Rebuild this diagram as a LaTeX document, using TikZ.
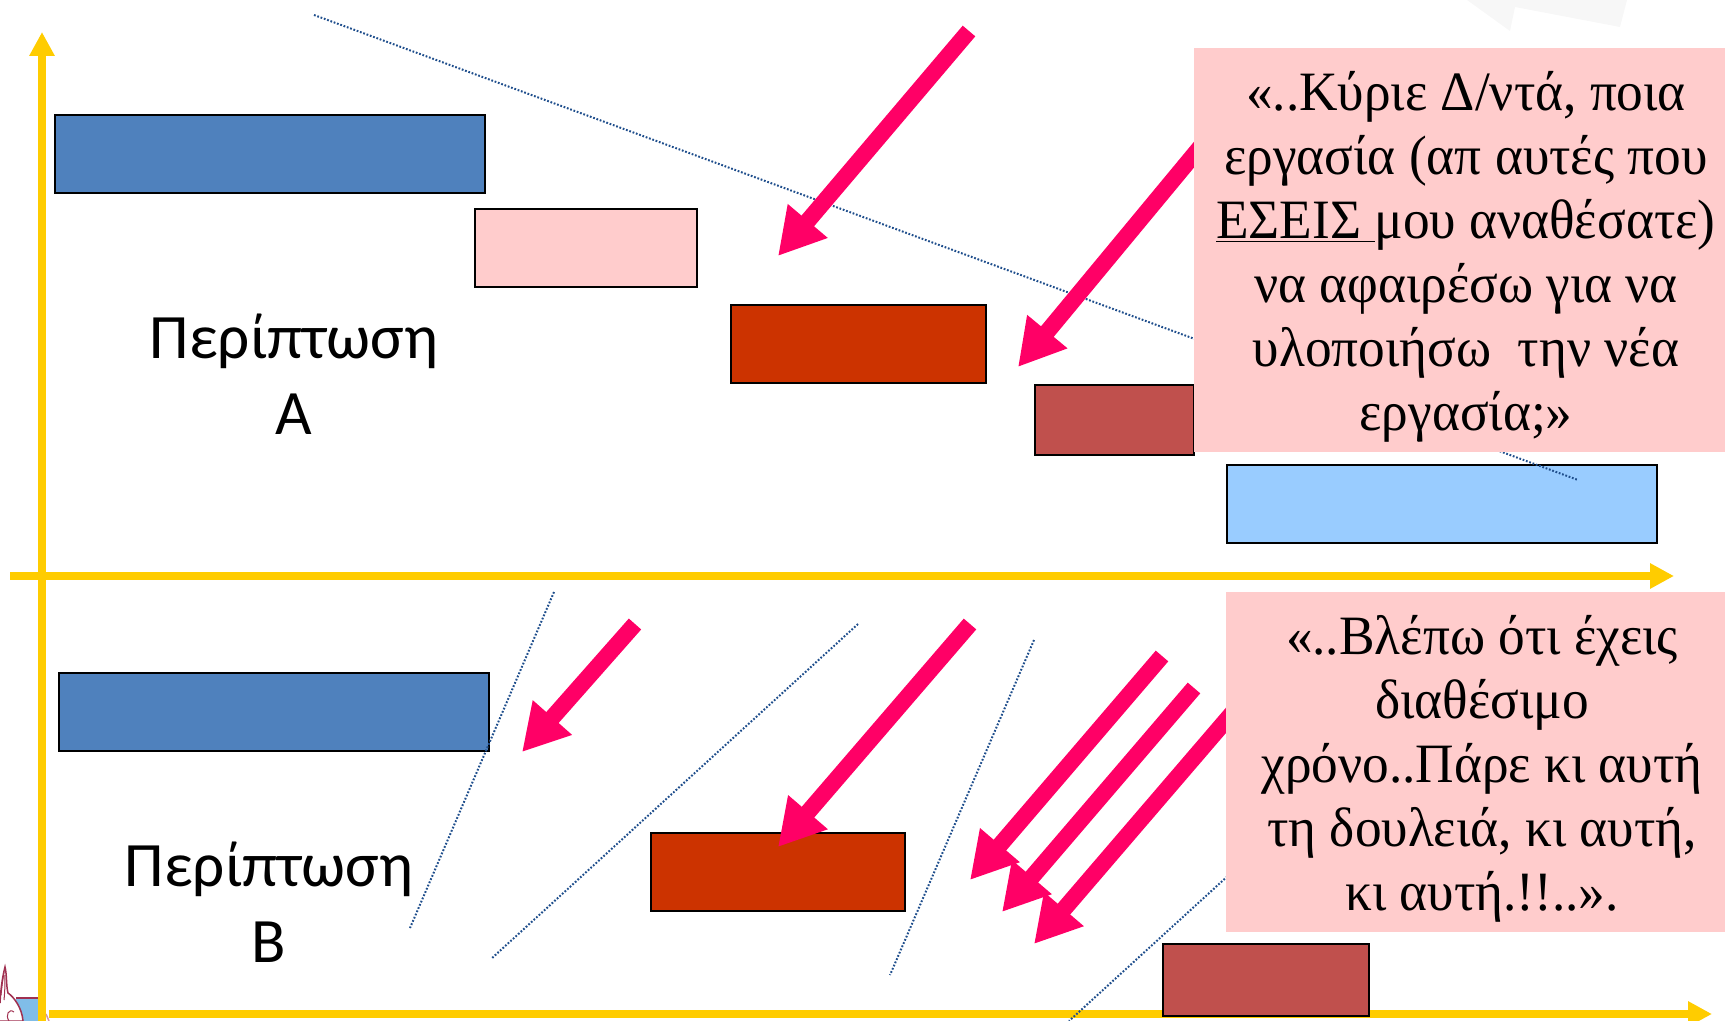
\documentclass[tikz,border=0pt]{standalone}
\usepackage{fontspec}
\setmainfont[FakeStretch=0.96]{Liberation Serif}
\newfontfamily\labelfont{Carlito}
\usetikzlibrary{arrows.meta}
\definecolor{axisyellow}{HTML}{FFCC00}
\definecolor{hotpink}{HTML}{FF0066}
\definecolor{taskblue}{HTML}{4F81BD}
\definecolor{taskpink}{HTML}{FFCCCC}
\definecolor{taskred}{HTML}{CC3300}
\definecolor{taskbrown}{HTML}{C0504D}
\definecolor{tasksky}{HTML}{99CCFF}
\definecolor{dotblue}{HTML}{1F4E8C}
\definecolor{logomaroon}{HTML}{A03050}
\definecolor{logoblue}{HTML}{80BDE8}
\tikzset{
  x=0.02cm,y=-0.02cm,
  taskbar/.style={draw=black,line width=0.04cm,inner sep=0pt,outer sep=0pt},
  axisline/.style={draw=axisyellow,line width=0.15cm,-{Triangle[length=0.48cm,width=0.48cm]}},
  pinkarrow/.style={draw=hotpink,line width=0.33cm,-{Triangle[length=0.92cm,width=0.98cm]}},
  dotline/.style={draw=dotblue,line width=0.04cm,dash pattern=on 0.035cm off 0.035cm},
  quotebox/.style={fill=taskpink,draw=none,inner sep=0pt},
  quotetext/.style={align=center,inner sep=0pt,font=\fontsize{31.6pt}{36.4pt}\selectfont},
  caselabel/.style={align=center,inner sep=0pt,font=\labelfont\fontsize{36pt}{43.2pt}\selectfont},
}
\begin{document}
\begin{tikzpicture}
\useasboundingbox (0,0) rectangle (1725,1021);
% faint background shape and logo fragment
\fill[black!3] (1467,0) -- (1510,31) -- (1515,7) -- (1620,27) -- (1627,0) -- cycle;
\fill[logoblue] (16,998) rectangle (40,1021);
\draw[logomaroon,line width=0.03cm] (16,998) -- (40,998);
\draw[logomaroon,line width=0.03cm,fill=white] (0,1003) .. controls (1,985) and (3,975) .. (5,967) .. controls (7,975) and (6,985) .. (8,993) .. controls (14,997) and (22,1008) .. (23,1021) -- (0,1021);
\draw[logomaroon,line width=0.02cm] (1,995) .. controls (2,985) and (3,978) .. (4,972);
\draw[logomaroon,line width=0.02cm] (4,1000) .. controls (5,990) and (5,982) .. (5,975);
\draw[logomaroon,line width=0.02cm] (9,1021) .. controls (5,1015) and (9,1008) .. (14,1012);
\draw[logomaroon!50,line width=0.03cm] (46,1014) -- (49,1021);
% axes
\coordinate (yfoot) at (42,1021);
\coordinate (yhead) at (42,32);
\coordinate (xaStart) at (10,576);
\coordinate (xaEnd) at (1674,576);
\coordinate (xbStart) at (49,1014);
\coordinate (xbEnd) at (1712,1014);
\draw[axisline] (yfoot) -- (yhead);
\draw[axisline] (xaStart) -- (xaEnd);
\draw[axisline] (xbStart) -- (xbEnd);
% task bars, case A
\node[taskbar,fill=taskblue,minimum width=8.62cm,minimum height=1.58cm] (barA) at (270,154) {};
\node[taskbar,fill=taskpink,minimum width=4.44cm,minimum height=1.56cm] (barB) at (586,248) {};
\node[taskbar,fill=taskred,minimum width=5.1cm,minimum height=1.56cm] (barC) at (858.5,344) {};
\node[taskbar,fill=taskbrown,minimum width=3.18cm,minimum height=1.4cm] (barD) at (1114.5,420) {};
\node[taskbar,fill=tasksky,minimum width=8.6cm,minimum height=1.58cm] (barE) at (1442,504) {};
% task bars, case B
\node[taskbar,fill=taskblue,minimum width=8.62cm,minimum height=1.56cm] (barF) at (274,712) {};
\node[taskbar,fill=taskred,minimum width=5.1cm,minimum height=1.56cm] (barG) at (778,872) {};
\node[taskbar,fill=taskbrown,minimum width=4.14cm,minimum height=1.44cm] (barH) at (1266,980) {};
% dotted lines
\coordinate (da1) at (314,15);
\coordinate (da2) at (1578,480);
\coordinate (db1) at (554,592);
\coordinate (db2) at (410,928);
\coordinate (dc1) at (858,624);
\coordinate (dc2) at (491,959);
\coordinate (dd1) at (1034,640);
\coordinate (dd2) at (890,975);
\coordinate (de1) at (1230,874);
\coordinate (de2) at (1069,1021);
\draw[dotline] (da1) -- (da2);
\draw[dotline] (db1) -- (db2);
\draw[dotline] (dc1) -- (dc2);
\draw[dotline] (dd1) -- (dd2);
\draw[dotline] (de1) -- (de2);
% pink arrows
\coordinate (p1s) at (969,31);
\coordinate (p1t) at (778,256);
\coordinate (p2s) at (1202,145);
\coordinate (p2t) at (1018,367);
\coordinate (p3s) at (635,624);
\coordinate (p3t) at (522,752);
\coordinate (p4s) at (970,624);
\coordinate (p4t) at (778,847);
\coordinate (p5s) at (1162,656);
\coordinate (p5t) at (970,880);
\coordinate (p6s) at (1194,688);
\coordinate (p6t) at (1002,912);
\coordinate (p7s) at (1234,711);
\coordinate (p7t) at (1034,944);
\foreach \s/\t in {p1s/p1t,p2s/p2t,p3s/p3t,p4s/p4t,p5s/p5t,p6s/p6t,p7s/p7t}
  \draw[pinkarrow] (\s) -- (\t);
% quote boxes
\node[quotebox,minimum width=10.62cm,minimum height=8.08cm] (boxA) at (1459.5,250) {};
\node[quotebox,minimum width=9.98cm,minimum height=6.8cm] (boxB) at (1475.5,762) {};
\node[quotetext] (textA) at (1466,257) {«..Κύριε Δ/ντά, ποια\\εργασία (απ αυτές που\\\underline{ΕΣΕΙΣ\ }μου αναθέσατε)\\να αφαιρέσω για να\\υλοποιήσω\ \ την νέα\\εργασία;»};
\node[quotetext] (textB) at (1482,769) {«..Βλέπω ότι έχεις\\διαθέσιμο\\χρόνο..Πάρε κι αυτή\\τη δουλειά, κι αυτή,\\κι αυτή.!!..».};
% case labels
\node[caselabel] (caseA) at (294,374) {Περίπτωση\\Α};
\node[caselabel] (caseB) at (269,902) {Περίπτωση\\Β};
\end{tikzpicture}
\end{document}
